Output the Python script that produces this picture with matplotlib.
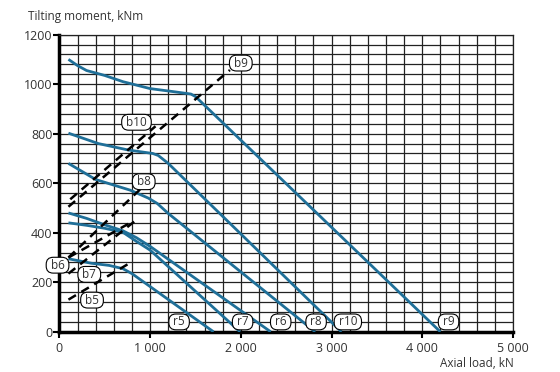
import matplotlib.pyplot as plt
from matplotlib.ticker import MultipleLocator, FuncFormatter

# raceway curves (blue) - axial load kN / tilting moment kNm
r9_x = [100, 200, 300, 500, 700, 1000, 1250, 1450, 1500, 4200]
r9_y = [1100, 1075, 1055, 1035, 1010, 982, 970, 960, 950, 0]
r10_x = [100, 430, 760, 1030, 1090, 1200, 3110]
r10_y = [802, 760, 734, 720, 712, 680, 0]
r8_x = [100, 400, 780, 980, 1080, 1200, 2820]
r8_y = [680, 615, 572, 540, 518, 478, 0]
r6_x = [100, 300, 500, 700, 850, 1000, 2330]
r6_y = [480, 458, 432, 408, 380, 345, 0]
r7_x = [100, 300, 500, 700, 850, 1000, 1992]
r7_y = [440, 430, 418, 402, 365, 330, 0]
r5_x = [100, 350, 550, 700, 800, 1700]
r5_y = [295, 277, 268, 255, 235, 0]

# bolt curves (dashed)
b9_x, b9_y = [100, 1880], [505, 1057]
b10_x, b10_y = [120, 1060], [535, 830]
b8_x, b8_y = [100, 890], [300, 575]
b6_x, b6_y = [100, 780], [300, 440]
b7_x, b7_y = [100, 860], [235, 455]
b5_x, b5_y = [100, 800], [130, 283]

# label positions
r_labels = ["r5", "r7", "r6", "r8", "r10", "r9"]
r_label_x = [1320, 2020, 2440, 2830, 3180, 4290]
r_label_y = [40, 40, 40, 40, 40, 40]
b_labels = ["b9", "b10", "b8", "b6", "b7", "b5"]
b_label_x = [2000, 850, 930, -20, 330, 360]
b_label_y = [1085, 846, 606, 269, 232, 128]

blue = "#1f6f98"
txt = "#333333"

fig = plt.figure(figsize=(5.6, 3.72), dpi=100)
ax = fig.add_axes([0.106, 0.108, 0.81, 0.799])

for xs, ys in [(r9_x, r9_y), (r10_x, r10_y), (r8_x, r8_y),
               (r6_x, r6_y), (r7_x, r7_y), (r5_x, r5_y)]:
    ax.plot(xs, ys, color=blue, lw=2, solid_capstyle="butt", zorder=3)

for xs, ys in [(b9_x, b9_y), (b10_x, b10_y), (b8_x, b8_y),
               (b6_x, b6_y), (b7_x, b7_y), (b5_x, b5_y)]:
    ax.plot(xs, ys, color="black", lw=1.8, dashes=(3.5, 2.5), zorder=4)

box = dict(boxstyle="round,pad=0.12,rounding_size=0.6", fc="white", ec="black", lw=0.8)
for lab, x, y in zip(r_labels + b_labels, r_label_x + b_label_x, r_label_y + b_label_y):
    ax.text(x, y, " " + lab + " ", fontsize=8.5, color=txt, ha="center", va="center",
            bbox=box, zorder=5, family="Open Sans")

ax.set_xlim(0, 5000)
ax.set_ylim(0, 1200)
ax.xaxis.set_major_locator(MultipleLocator(1000))
ax.yaxis.set_major_locator(MultipleLocator(200))
ax.xaxis.set_minor_locator(MultipleLocator(200))
ax.yaxis.set_minor_locator(MultipleLocator(40))
ax.xaxis.set_major_formatter(FuncFormatter(lambda v, p: f"{int(v):,}".replace(",", " ")))
ax.grid(True, which="both", color="#222222", lw=0.9)
ax.tick_params(which="minor", length=0)
ax.tick_params(which="major", length=4, width=1.5, color="black", labelsize=9,
               labelcolor=txt, direction="out")
for lab in ax.get_xticklabels() + ax.get_yticklabels():
    lab.set_family("Open Sans")
ax.tick_params(axis="y", pad=1)

for s in ["left", "bottom"]:
    ax.spines[s].set_linewidth(2.5)
    ax.spines[s].set_color("black")
for s in ["top", "right"]:
    ax.spines[s].set_linewidth(0.9)
    ax.spines[s].set_color("#222222")

fig.text(0.05, 0.955, "Tilting moment, kNm", fontsize=8.5, color=txt, family="Open Sans",
         va="center")
fig.text(0.917, 0.022, "Axial load, kN", fontsize=8.5, color=txt, family="Open Sans",
         ha="right", va="center")

fig.savefig("out.png", dpi=100)
